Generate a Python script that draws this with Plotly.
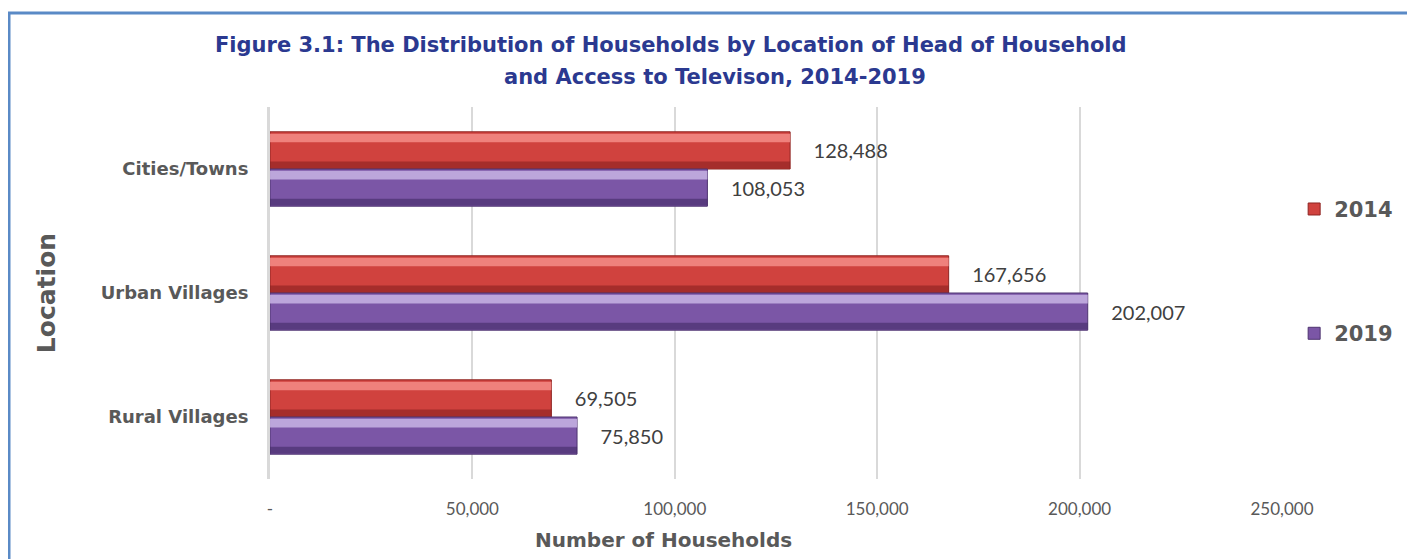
import plotly.graph_objects as go

locations = ["Cities/Towns", "Urban Villages", "Rural Villages"]
hh_2014 = [128488, 167656, 69505]
hh_2019 = [108053, 202007, 75850]
x_ticks = [0, 50000, 100000, 150000, 200000, 250000]
x_tick_labels = ["-", "50,000", "100,000", "150,000", "200,000", "250,000"]

FONT = "Lato"
BOLD = "DejaVu Sans"
GRAY = "#595959"
# the page puts the figure 8px in from the top-left corner
W, H = 1407, 551
L, R, T, B = 262, 133, 99, 80
PW, PH = W - L - R, H - T - B

PAD = "\u00a0\u00a0\u00a0\u00a0"
BW = 0.3  # bar thickness in category units

series = [
    # name, values, offset, base colour, light stripe, dark stripe, outline
    ("2014", hh_2014, -BW, "#d0423e", "rgba(245,140,135,0.85)", "rgba(130,30,28,0.55)", "#8e2422"),
    ("2019", hh_2019, 0.0, "#7b56a6", "rgba(200,180,228,0.85)", "rgba(60,38,95,0.55)", "#4e3470"),
]

fig = go.Figure()
for name, vals, off, col, light, dark, edge in series:
    fig.add_trace(go.Bar(
        y=locations, x=vals, name=name, orientation="h",
        offset=off, width=BW,
        marker=dict(color=col, line=dict(color=edge, width=1)),
        text=[PAD + f"{v:,}" for v in vals], textposition="outside",
        textfont=dict(family=FONT, size=20, color="#404040"),
        legendgroup=name, cliponaxis=False,
    ))
    # glossy top stripe and shaded bottom stripe
    fig.add_trace(go.Bar(
        y=locations, x=vals, orientation="h", offset=off + 0.015, width=0.07,
        marker=dict(color=light, line=dict(width=0)),
        showlegend=False, hoverinfo="skip", legendgroup=name,
    ))
    fig.add_trace(go.Bar(
        y=locations, x=vals, orientation="h", offset=off + BW - 0.06, width=0.055,
        marker=dict(color=dark, line=dict(width=0)),
        showlegend=False, hoverinfo="skip", legendgroup=name,
    ))

fig.update_layout(
    width=W, height=H,
    margin=dict(l=L, r=R, t=T, b=B),
    paper_bgcolor="white", plot_bgcolor="white",
    barmode="overlay",
    font=dict(family=FONT, color=GRAY),
    showlegend=True,
    legend=dict(
        x=1.012, y=0.78, xanchor="left", yanchor="top",
        font=dict(family=BOLD, size=21, color=GRAY, weight="bold"),
        tracegroupgap=94, itemwidth=30,
    ),
    xaxis=dict(
        range=[0, 250000], tickvals=x_ticks, ticktext=x_tick_labels,
        showgrid=True, gridcolor="#d9d9d9", gridwidth=2,
        zeroline=False, showline=False,
        tickfont=dict(family=FONT, size=17, color=GRAY),
        ticks="", ticklabelstandoff=18,
    ),
    yaxis=dict(
        autorange="reversed", showgrid=False, zeroline=False,
        showline=True, linecolor="#d9d9d9", linewidth=3,
        tickfont=dict(family=BOLD, size=18, color=GRAY, weight="bold"),
        ticks="", ticklabelstandoff=15,
        title=dict(text="Location", standoff=38,
                   font=dict(family=BOLD, size=25, color=GRAY, weight="bold")),
    ),
)

TITLE_COLOR = "#2b3990"
fig.add_annotation(
    text="Figure 3.1: The Distribution of Households by Location of Head of Household",
    xref="paper", yref="paper", x=(663 - L) / PW, y=1 + (T - 37) / PH,
    xanchor="center", yanchor="middle", showarrow=False,
    font=dict(family=BOLD, size=21, color=TITLE_COLOR, weight="bold"),
)
fig.add_annotation(
    text="and Access to Televison, 2014-2019",
    xref="paper", yref="paper", x=(707 - L) / PW, y=1 + (T - 69) / PH,
    xanchor="center", yanchor="middle", showarrow=False,
    font=dict(family=BOLD, size=21, color=TITLE_COLOR, weight="bold"),
)
# x axis title, centred on the whole frame rather than the plot area
fig.add_annotation(
    text="Number of Households",
    xref="paper", yref="paper", x=(655 - L) / PW, y=-(532 - (H - B)) / PH,
    xanchor="center", yanchor="middle", showarrow=False,
    font=dict(family=BOLD, size=20, color=GRAY, weight="bold"),
)

# outer frame
fig.add_shape(
    type="rect", xref="paper", yref="paper", layer="above",
    x0=(1 - L) / PW, x1=(W + 20 - L) / PW,
    y0=-(B + 20) / PH, y1=1 + (T - 5) / PH,
    line=dict(color="#5a8ac6", width=3),
)

fig.write_html("out.html")
